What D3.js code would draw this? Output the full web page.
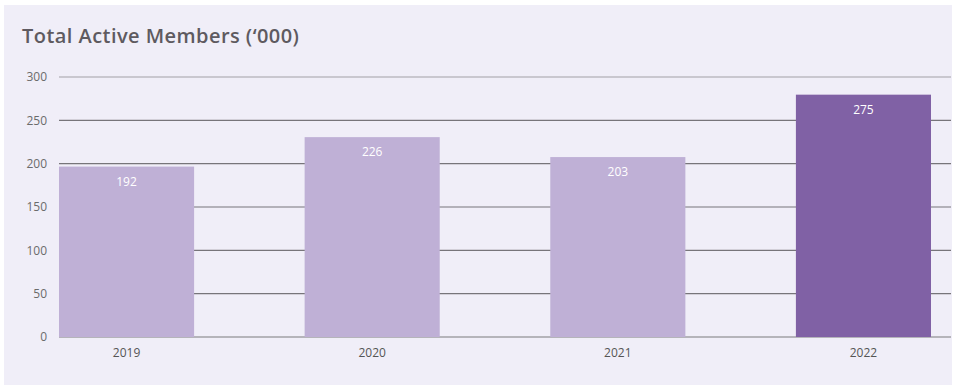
<!DOCTYPE html>
<html>
<head>
<meta charset="utf-8">
<script src="https://cdn.jsdelivr.net/npm/d3@7"></script>
<style>
  body { margin: 0; background: #ffffff; }
  svg { display: block; }
  .tick-label { font-family: "Open Sans", sans-serif; font-size: 12px; fill: #6b6b6b; }
  .year-label { font-family: "Open Sans", sans-serif; font-size: 12px; fill: #555555; }
  .value { font-family: "Open Sans", sans-serif; font-size: 12px; fill: #ffffff; }
</style>
</head>
<body>
<script>
var years = ["2019", "2020", "2021", "2022"];
var members = [192, 226, 203, 275];
var yTicks = [0, 50, 100, 150, 200, 250, 300];

var svg = d3.select("body").append("svg")
    .attr("width", 957)
    .attr("height", 390);

// panel background
svg.append("rect")
    .attr("x", 4).attr("y", 5)
    .attr("width", 948).attr("height", 380)
    .attr("fill", "#f0eef8");

svg.append("text")
    .attr("x", 22).attr("y", 43)
    .attr("font-family", "'Open Sans', sans-serif")
    .attr("font-size", "20px")
    .attr("font-weight", 600)
    .attr("letter-spacing", "0.45px")
    .attr("fill", "#5e5a60")
    .text("Total Active Members (‘000)");

var x = d3.scaleBand()
    .domain(years)
    .range([59, 931])
    .paddingInner(0.45)
    .paddingOuter(0);

var y = d3.scaleLinear()
    .domain([0, 300])
    .range([337, 77]);

// gridlines
svg.selectAll("line.grid")
    .data(yTicks)
    .enter().append("line")
    .attr("class", "grid")
    .attr("x1", 59).attr("x2", 951)
    .attr("y1", function(d) { return y(d); })
    .attr("y2", function(d) { return y(d); })
    .attr("stroke", function(d) { return (d === 0 || d === 300) ? "#a2a0a6" : "#77757a"; })
    .attr("stroke-width", function(d) { return d === 0 ? 1.5 : 1.2; });

svg.selectAll("text.tick-label")
    .data(yTicks)
    .enter().append("text")
    .attr("class", "tick-label")
    .attr("x", 47)
    .attr("y", function(d) { return y(d); })
    .attr("dy", "0.35em")
    .attr("text-anchor", "end")
    .text(function(d) { return d; });

var barLift = 4; // bars in the original sit slightly above their values

svg.selectAll("rect.bar")
    .data(members)
    .enter().append("rect")
    .attr("class", "bar")
    .attr("x", function(d, i) { return x(years[i]); })
    .attr("width", x.bandwidth())
    .attr("y", function(d) { return y(d) - barLift; })
    .attr("height", function(d) { return y(0) - y(d) + barLift; })
    .attr("fill", function(d, i) { return i === years.length - 1 ? "#8061a5" : "#bfb0d6"; });

svg.selectAll("text.value")
    .data(members)
    .enter().append("text")
    .attr("class", "value")
    .attr("x", function(d, i) { return x(years[i]) + x.bandwidth() / 2; })
    .attr("y", function(d) { return y(d) - barLift + 15; })
    .attr("dy", "0.35em")
    .attr("text-anchor", "middle")
    .text(function(d) { return d; });

svg.selectAll("text.year-label")
    .data(years)
    .enter().append("text")
    .attr("class", "year-label")
    .attr("x", function(d) { return x(d) + x.bandwidth() / 2; })
    .attr("y", 353)
    .attr("dy", "0.35em")
    .attr("text-anchor", "middle")
    .text(function(d) { return d; });
</script>
</body>
</html>
